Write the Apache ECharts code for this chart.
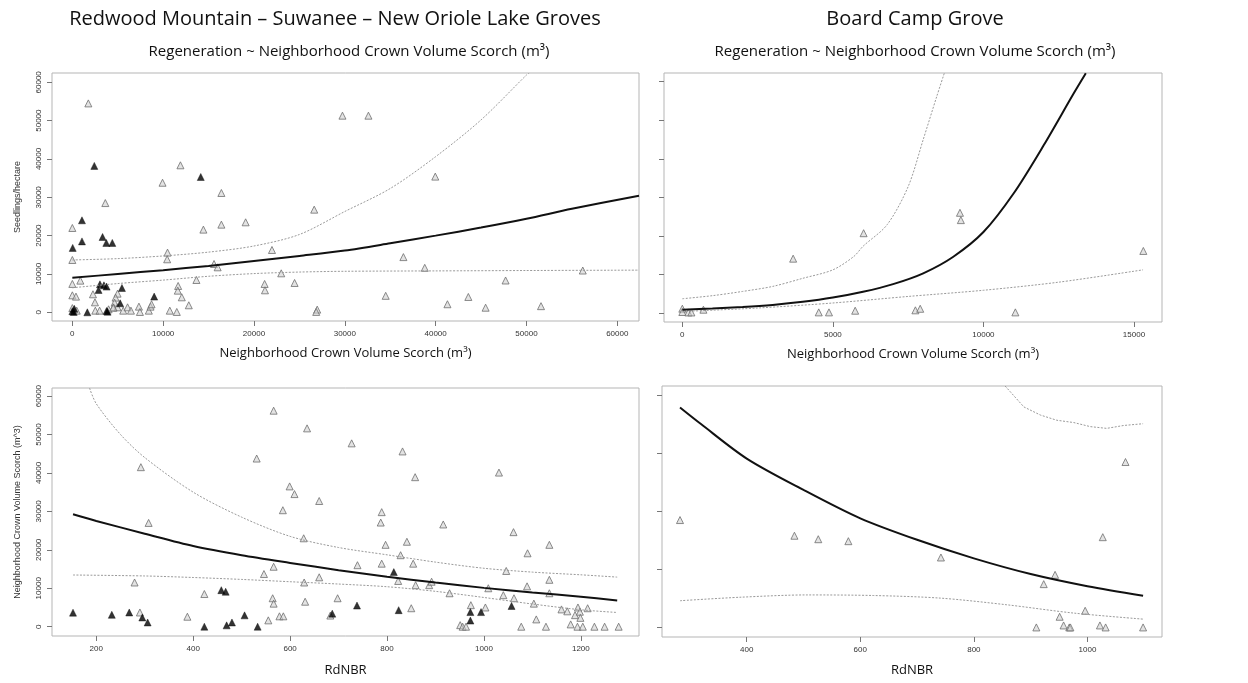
<!DOCTYPE html>
<html><head><meta charset="utf-8">
<script src="https://cdn.jsdelivr.net/npm/echarts@6/dist/echarts.min.js"></script>
<style>html,body{margin:0;padding:0;background:#fff}#c{width:1248px;height:683px}</style>
</head><body><div id="c"></div>
<script>
// ---------- Tick values ----------
const TL_X_TICKS = [0, 10000, 20000, 30000, 40000, 50000, 60000];
const TL_Y_TICKS = [0, 10000, 20000, 30000, 40000, 50000, 60000];
const TR_X_TICKS = [0, 5000, 10000, 15000];
const TR_Y_TICKS = [0, 10000, 20000, 30000, 40000, 50000, 60000];
const BL_X_TICKS = [200, 400, 600, 800, 1000, 1200];
const BL_Y_TICKS = [0, 10000, 20000, 30000, 40000, 50000, 60000];
const BR_X_TICKS = [400, 600, 800, 1000];
const BR_Y_TICKS = [0, 10000, 20000, 30000, 40000];

// ---------- Top-left: Redwood Mtn etc., Regeneration ~ Crown Volume Scorch ----------
const TL_GRAY_X = [1760,3630,0,0,0,880,0,400,2270,2490,4980,4760,4650,4540,4980,0,480,2530,3000,3990,4500,5600,6080,6450,7330,7440,8420,8610,8720,
  9930,11900,16410,16410,14430,19080,26630,21980,10480,10440,15600,16000,11650,11610,12050,13660,10730,11500,12820,21170,21210,23000,24470,26960,26850,
  29740,32600,39960,36450,38800,56200,34500,41300,43600,45500,47700,51600];
const TL_GRAY_Y = [54500,28500,22000,13650,7400,8260,4430,4090,4700,2600,4870,3830,2520,1300,1300,1100,430,430,430,780,1200,430,1300,430,1480,90,430,1480,2090,
  33800,38350,31130,22870,21570,23480,26780,16260,15570,13830,12600,11740,6870,5650,3910,8430,430,90,1830,7390,5740,10170,7650,700,100,
  51300,51300,35400,14400,11600,10900,4300,2100,4000,1200,8300,1600];
const TL_BLACK_X = [2420,1060,1060,40,3330,3740,4400,14140,3040,3480,3770,2890,5460,5270,9010,0,220,150,1650,3770,3880];
const TL_BLACK_Y = [38200,24000,18500,16800,19650,18100,18100,35300,7300,7040,6700,5830,6350,2350,4090,300,900,100,0,350,150];
const TL_FIT_X = [0,5000,10000,15000,20000,25000,30000,35000,40000,45000,50000,55000,62390];
const TL_FIT_Y = [9000,10000,11000,12100,13400,14700,16100,18000,20000,22100,24400,27000,30400];
const TL_UP_X = [0,5000,10000,15000,20000,25000,30000,35000,40000,45000,50000,50300];
const TL_UP_Y = [13650,14000,14700,15700,17300,20300,26300,32300,40600,50200,61900,62400];
const TL_LO_X = [0,5000,10000,15000,20000,25000,30000,40000,50000,62390];
const TL_LO_Y = [6400,7500,8400,9400,10100,10500,10700,10800,10900,11000];

// ---------- Top-right: Board Camp Grove ----------
const TR_GRAY_X = [0,0,200,300,700,3680,6020,4530,4870,5740,7740,7900,9220,9250,11060,15310];
const TR_GRAY_Y = [1120,260,150,150,860,14100,20700,170,170,600,700,1100,26000,24100,170,16100];
const TR_FIT_X = [0,1000,2000,3000,4000,5000,6000,7000,8000,9000,10000,11000,12000,13000,13400];
const TR_FIT_Y = [860,1150,1550,2100,2900,4000,5500,7500,10300,14600,21000,31000,43500,57000,62200];
const TR_UP_X = [0,1000,2000,3000,4000,5000,5700,6000,6800,7500,8000,8450,8700];
const TR_UP_Y = [3700,4500,5600,6900,9000,11200,14700,17300,22900,32800,45000,56200,62200];
const TR_LO_X = [0,2500,5000,7500,10000,12500,15300];
const TR_LO_Y = [400,1300,2600,4300,5900,8000,11200];

// ---------- Bottom-left: Crown Volume Scorch ~ RdNBR ----------
const BL_GRAY_X = [292,308,279,290,388,423,531,546,555,566,566,564,566,578,586,585,599,609,628,629,631,635,660,660,683,
  698,739,727,789,787,797,789,823,828,832,841,850,854,858,859,887,892,929,916,951,956,963,973,1003,1009,1031,1040,1046,1061,1062,1077,
  1090,1089,1103,1108,1128,1135,1135,1135,1160,1172,1188,1179,1194,1198,1199,1193,1204,1214,1228,1249,1278];
const BL_GRAY_Y = [41500,27000,11500,3700,2600,8500,43750,13700,1650,56200,15600,7400,6000,2700,2700,30300,36500,34500,23000,11500,6500,51600,32700,12850,2900,
  7400,16000,47700,29800,27100,21300,16400,11900,18600,45600,22100,4800,16400,38900,10800,10800,11700,8700,26600,400,0,0,5600,5000,10000,40100,8200,14500,24600,7400,0,
  19100,10500,6000,1900,0,21300,12200,8700,4500,4000,3000,600,5000,3900,2300,0,0,4800,0,0,0];
const BL_BLACK_X = [152,232,268,295,306,423,458,467,469,480,506,533,687,738,814,824,972,972,994,1057];
const BL_BLACK_Y = [3650,3100,3700,2400,1100,0,9500,9100,350,1100,2950,0,3400,5500,14200,4300,3800,1600,3800,5400];
const BL_FIT_X = [152,200,300,400,500,600,700,800,900,1000,1100,1200,1275];
const BL_FIT_Y = [29250,27500,24200,21000,18600,16600,14700,13000,11500,10100,8900,7800,6800];
const BL_UP_X = [186,200,250,300,400,500,600,700,800,900,1000,1100,1200,1275];
const BL_UP_Y = [62100,58000,50000,44000,35000,28500,23500,20600,18700,16800,15200,14200,13500,12900];
const BL_LO_X = [152,300,400,500,600,700,800,900,1000,1100,1200,1275];
const BL_LO_Y = [13450,13200,12800,12300,11700,11100,10400,9200,7600,5900,4400,3700];

// ---------- Bottom-right: Board Camp Grove ----------
const BR_GRAY_X = [282.5,484,526,579,742,923,943,951,910,958,968,970,996,1022,1027,1032,1067,1098];
const BR_GRAY_Y = [18500,15800,15200,14860,12050,7460,9060,1840,0,340,0,0,2870,340,15550,0,28500,0];
const BR_FIT_X = [282.5,320,400,500,600,700,800,900,1000,1098];
const BR_FIT_Y = [37900,35000,29100,23700,18800,15100,11900,9200,7100,5450];
const BR_UP_X = [855,888,917,946,976,1005,1034,1064,1098];
const BR_UP_Y = [41600,38000,36600,35700,35300,34600,34300,34800,35100];
const BR_LO_X = [282.5,388,506,623,741,858,976,1098];
const BR_LO_Y = [4600,5200,5600,5500,5050,3900,2470,1430];

// ---------- Build ----------
const pts = (xs, ys) => xs.map((x, i) => [x, ys[i]]);
const TICK_FONT = 'Liberation Sans';
const TEXT_FONT = 'Open Sans';
const plain = v => String(v);

function xAxisCfg(idx, min, max, ticks, name, gap) {
  return {
    type: 'value', gridIndex: idx, min, max, position: 'bottom',
    axisLine: { show: false, onZero: false }, splitLine: { show: false },
    axisTick: { show: true, customValues: ticks, length: 5, lineStyle: { color: '#777' } },
    axisLabel: { show: true, customValues: ticks, formatter: plain, fontSize: 8, color: '#333', fontFamily: TICK_FONT, margin: 9 },
    name, nameLocation: 'middle', nameGap: gap,
    nameTextStyle: { fontSize: 13, color: '#111', fontFamily: TEXT_FONT }
  };
}
function yAxisCfg(idx, min, max, ticks, showLabels, name) {
  return {
    type: 'value', gridIndex: idx, min, max, position: 'left',
    axisLine: { show: false, onZero: false }, splitLine: { show: false },
    axisTick: { show: true, customValues: ticks, length: 5, lineStyle: { color: '#777' } },
    axisLabel: { show: showLabels, customValues: ticks, formatter: plain, fontSize: 8, color: '#333', fontFamily: TICK_FONT, rotate: 90, margin: 9 },
    name: name || '', nameLocation: 'middle', nameGap: 30, nameRotate: 90,
    nameTextStyle: { fontSize: 9, color: '#333', fontFamily: TICK_FONT }
  };
}
function grayScatter(idx, xs, ys) {
  return { type: 'scatter', xAxisIndex: idx, yAxisIndex: idx, data: pts(xs, ys), symbol: 'triangle', symbolSize: 7,
    itemStyle: { color: 'rgba(205,205,205,0.7)', borderColor: '#6f6f6f', borderWidth: 1 }, z: 3 };
}
function blackScatter(idx, xs, ys) {
  return { type: 'scatter', xAxisIndex: idx, yAxisIndex: idx, data: pts(xs, ys), symbol: 'triangle', symbolSize: 7,
    itemStyle: { color: '#000', borderColor: '#000', borderWidth: 0.5 }, z: 4 };
}
function fitLine(idx, xs, ys) {
  return { type: 'line', xAxisIndex: idx, yAxisIndex: idx, data: pts(xs, ys), showSymbol: false, smooth: 0.3,
    lineStyle: { color: '#111', width: 2 }, clip: true, z: 5, silent: true };
}
function ciLine(idx, xs, ys, smooth) {
  return { type: 'line', xAxisIndex: idx, yAxisIndex: idx, data: pts(xs, ys), showSymbol: false, smooth: smooth ? 0.3 : false,
    lineStyle: { color: '#9a9a9a', width: 1, type: [2, 1.5] }, clip: true, z: 5, silent: true };
}

const gridStyle = { show: true, borderColor: '#b5b5b5', borderWidth: 1, backgroundColor: 'transparent', containLabel: false };
const option = {
  backgroundColor: '#fff',
  animation: false,
  grid: [
    Object.assign({ left: 52, top: 73, width: 587, height: 248 }, gridStyle),
    Object.assign({ left: 664, top: 73, width: 498, height: 249 }, gridStyle),
    Object.assign({ left: 52, top: 388, width: 587, height: 248 }, gridStyle),
    Object.assign({ left: 662, top: 386, width: 500, height: 251 }, gridStyle)
  ],
  xAxis: [
    xAxisCfg(0, -2240, 62390, TL_X_TICKS, 'Neighborhood Crown Volume Scorch (m³)', 26),
    xAxisCfg(1, -609, 15930, TR_X_TICKS, 'Neighborhood Crown Volume Scorch (m³)', 26),
    xAxisCfg(2, 108.6, 1320, BL_X_TICKS, 'RdNBR', 28),
    xAxisCfg(3, 250.8, 1131.3, BR_X_TICKS, 'RdNBR', 27)
  ],
  yAxis: [
    yAxisCfg(0, -2270, 62430, TL_Y_TICKS, true, 'Seedlings/hectare'),
    yAxisCfg(1, -2330, 62260, TR_Y_TICKS, false, ''),
    yAxisCfg(2, -2420, 62100, BL_Y_TICKS, true, 'Neighborhood Crown Volume Scorch (m^3)'),
    yAxisCfg(3, -1650, 41600, BR_Y_TICKS, false, '')
  ],
  series: [
    grayScatter(0, TL_GRAY_X, TL_GRAY_Y), blackScatter(0, TL_BLACK_X, TL_BLACK_Y),
    fitLine(0, TL_FIT_X, TL_FIT_Y), ciLine(0, TL_UP_X, TL_UP_Y, true), ciLine(0, TL_LO_X, TL_LO_Y, true),
    grayScatter(1, TR_GRAY_X, TR_GRAY_Y),
    fitLine(1, TR_FIT_X, TR_FIT_Y), ciLine(1, TR_UP_X, TR_UP_Y, true), ciLine(1, TR_LO_X, TR_LO_Y, true),
    grayScatter(2, BL_GRAY_X, BL_GRAY_Y), blackScatter(2, BL_BLACK_X, BL_BLACK_Y),
    fitLine(2, BL_FIT_X, BL_FIT_Y), ciLine(2, BL_UP_X, BL_UP_Y, true), ciLine(2, BL_LO_X, BL_LO_Y, true),
    grayScatter(3, BR_GRAY_X, BR_GRAY_Y),
    fitLine(3, BR_FIT_X, BR_FIT_Y), ciLine(3, BR_UP_X, BR_UP_Y, false), ciLine(3, BR_LO_X, BR_LO_Y, true)
  ],
  graphic: [
    { type: 'text', x: 335, y: 19, style: { text: 'Redwood Mountain – Suwanee – New Oriole Lake Groves', fontSize: 20, fontFamily: TEXT_FONT, fill: '#111', align: 'center', verticalAlign: 'middle' } },
    { type: 'text', x: 915, y: 19, style: { text: 'Board Camp Grove', fontSize: 20, fontFamily: TEXT_FONT, fill: '#111', align: 'center', verticalAlign: 'middle' } },
    { type: 'text', x: 349, y: 52, style: { text: 'Regeneration ~ Neighborhood Crown Volume Scorch (m³)', fontSize: 15, fontFamily: TEXT_FONT, fill: '#111', align: 'center', verticalAlign: 'middle' } },
    { type: 'text', x: 915, y: 52, style: { text: 'Regeneration ~ Neighborhood Crown Volume Scorch (m³)', fontSize: 15, fontFamily: TEXT_FONT, fill: '#111', align: 'center', verticalAlign: 'middle' } }
  ]
};
const chart = echarts.init(document.getElementById('c'), null, { renderer: 'canvas' });
chart.setOption(option);
</script>
</body></html>
